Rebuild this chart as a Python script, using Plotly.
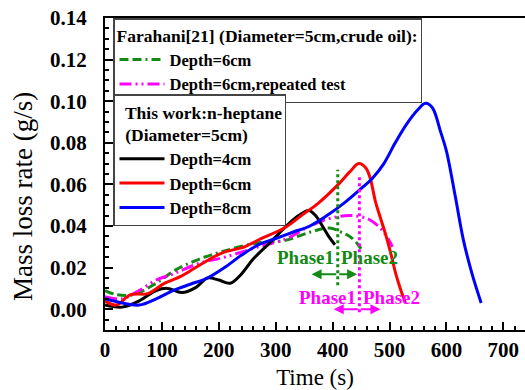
import plotly.graph_objects as go

# ---- data ----
t_black = [0, 30, 60, 90, 110, 135, 160, 180, 200, 220, 240, 260, 290, 315, 340, 358, 370, 382, 393, 404]
m_black = [0.002, 0.001, 0.004, 0.009, 0.010, 0.008, 0.0105, 0.015, 0.014, 0.0125, 0.017, 0.024, 0.032, 0.039, 0.045, 0.0475, 0.045, 0.040, 0.035, 0.031]

t_red = [0, 20, 45, 75, 105, 135, 165, 205, 245, 275, 315, 345, 375, 410, 430, 446, 458, 466, 475, 485, 493, 502, 511, 520, 528]
m_red = [0.004, 0.002, 0.007, 0.0075, 0.0125, 0.016, 0.021, 0.027, 0.030, 0.034, 0.039, 0.045, 0.051, 0.060, 0.066, 0.070, 0.068, 0.063, 0.052, 0.043, 0.036, 0.027, 0.017, 0.009, 0.003]

t_blue = [0, 30, 60, 90, 120, 150, 180, 210, 240, 270, 300, 330, 360, 390, 420, 450, 470, 490, 510, 530, 550, 563, 575, 590, 600, 615, 630, 645, 661]
m_blue = [0.005, 0.003, 0.002, 0.005, 0.009, 0.012, 0.015, 0.020, 0.026, 0.031, 0.034, 0.037, 0.040, 0.045, 0.051, 0.058, 0.063, 0.070, 0.080, 0.089, 0.096, 0.099, 0.097, 0.085, 0.076, 0.055, 0.033, 0.017, 0.003]

t_green = [0, 20, 50, 90, 125, 165, 210, 270, 315, 360, 395, 415, 430, 445, 452]
m_green = [0.009, 0.007, 0.007, 0.0125, 0.019, 0.024, 0.028, 0.032, 0.033, 0.037, 0.039, 0.037, 0.035, 0.031, 0.028]

t_mag = [0, 30, 60, 90, 120, 165, 210, 270, 320, 360, 400, 435, 465, 490, 505]
m_mag = [0.006, 0.005, 0.009, 0.014, 0.017, 0.022, 0.025, 0.030, 0.034, 0.040, 0.044, 0.045, 0.043, 0.037, 0.030]

# phase split lines
split_green_t = 409
split_green_y = [0.0115, 0.067]
split_mag_t = 447
split_mag_y = [-0.0015, 0.064]

x_ticks = [0, 100, 200, 300, 400, 500, 600, 700]
y_ticks = [0.00, 0.02, 0.04, 0.06, 0.08, 0.10, 0.12, 0.14]

SERIF = "Liberation Serif"
GREEN = "#138a13"
MAG = "#ff00ff"

fig = go.Figure()

fig.add_trace(go.Scatter(x=t_green, y=m_green, mode="lines", name="Depth=6cm",
                         line=dict(color=GREEN, width=3, dash="9px,4px,9px,4px,2px,4px", shape="spline"),
                         legend="legend"))
fig.add_trace(go.Scatter(x=t_mag, y=m_mag, mode="lines", name="Depth=6cm,repeated test",
                         line=dict(color=MAG, width=3, dash="12px,4px,2px,4px,2px,4px", shape="spline"),
                         legend="legend"))
fig.add_trace(go.Scatter(x=t_black, y=m_black, mode="lines", name="Depth=4cm",
                         line=dict(color="black", width=3, shape="spline"), legend="legend2"))
fig.add_trace(go.Scatter(x=t_red, y=m_red, mode="lines", name="Depth=6cm",
                         line=dict(color="#ff0000", width=3, shape="spline"), legend="legend2"))
fig.add_trace(go.Scatter(x=t_blue, y=m_blue, mode="lines", name="Depth=8cm",
                         line=dict(color="#0000ff", width=3, shape="spline"), legend="legend2"))

fig.add_trace(go.Scatter(x=[split_green_t, split_green_t], y=split_green_y, mode="lines",
                         line=dict(color=GREEN, width=3, dash="dot"), showlegend=False))
fig.add_trace(go.Scatter(x=[split_mag_t, split_mag_t], y=split_mag_y, mode="lines",
                         line=dict(color=MAG, width=3, dash="dot"), showlegend=False))

ann_font_g = dict(family=SERIF, size=19, color=GREEN, weight="bold")
ann_font_m = dict(family=SERIF, size=19, color=MAG, weight="bold")

PLOT_W = 420
X_MAX = 738

annotations = [
    dict(x=split_green_t - 3, y=0.025, text="Phase1", showarrow=False, xanchor="right", font=ann_font_g),
    dict(x=split_green_t + 3, y=0.025, text="Phase2", showarrow=False, xanchor="left", font=ann_font_g),
    dict(x=363, y=0.0168, ax=split_green_t, ay=0.0168, axref="x", ayref="y", text="", showarrow=True,
         arrowhead=2, arrowsize=1, arrowwidth=2, arrowcolor=GREEN),
    dict(x=443, y=0.0168, ax=split_green_t, ay=0.0168, axref="x", ayref="y", text="", showarrow=True,
         arrowhead=2, arrowsize=1, arrowwidth=2, arrowcolor=GREEN),
    dict(x=split_mag_t - 3, y=0.0058, text="Phase1", showarrow=False, xanchor="right", font=ann_font_m),
    dict(x=split_mag_t + 3, y=0.0058, text="Phase2", showarrow=False, xanchor="left", font=ann_font_m),
    dict(x=402, y=0.0, ax=split_mag_t, ay=0.0, axref="x", ayref="y", text="", showarrow=True,
         arrowhead=2, arrowsize=1, arrowwidth=2, arrowcolor=MAG),
    dict(x=484, y=0.0, ax=split_mag_t, ay=0.0, axref="x", ayref="y", text="", showarrow=True,
         arrowhead=2, arrowsize=1, arrowwidth=2, arrowcolor=MAG),
    dict(x=-82 / PLOT_W, y=0.426, xref="paper", yref="paper", text="Mass loss rate (g/s)",
         textangle=-90, xanchor="center", yanchor="middle", showarrow=False,
         font=dict(family=SERIF, size=27, color="black")),
]

fig.update_layout(
    width=525, height=390,
    margin=dict(l=105, r=0, t=18, b=60),
    paper_bgcolor="white", plot_bgcolor="white",
    annotations=annotations,
    xaxis=dict(range=[0, X_MAX], tickvals=x_ticks, ticktext=[str(v) for v in x_ticks],
               ticks="inside", ticklen=8, tickwidth=2, tickcolor="black",
               minor=dict(dtick=20, ticks="inside", ticklen=4, tickwidth=1.5, tickcolor="black",
                          showgrid=False),
               showline=True, linewidth=2, linecolor="black", mirror=True,
               showgrid=False, zeroline=False, ticklabelstandoff=0,
               tickfont=dict(family=SERIF, size=21, color="black", weight="bold"),
               title=dict(text="Time (s)", font=dict(family=SERIF, size=23, color="black"), standoff=8)),
    yaxis=dict(range=[-0.010, 0.14], tickvals=y_ticks, ticktext=[f"{v:.2f}" for v in y_ticks],
               ticks="inside", ticklen=8, tickwidth=2, tickcolor="black",
               minor=dict(dtick=0.005, tick0=0, ticks="inside", ticklen=4, tickwidth=1.5, tickcolor="black",
                          showgrid=False),
               showline=True, linewidth=2, linecolor="black", mirror=False,
               showgrid=False, zeroline=False, ticklabelstandoff=12,
               tickfont=dict(family=SERIF, size=21, color="black", weight="bold")),
    legend=dict(x=8 / PLOT_W, y=1.0, xanchor="left", yanchor="top",
                bgcolor="white", bordercolor="#444", borderwidth=1.5,
                font=dict(family=SERIF, size=16.5, color="black", weight="bold"),
                title=dict(text="Farahani[21] (Diameter=5cm,crude oil):",
                           font=dict(family=SERIF, size=17.5, color="black", weight="bold"),
                           side="top"),
                itemwidth=45, tracegroupgap=0),
    legend2=dict(x=8 / PLOT_W, y=0.755, xanchor="left", yanchor="top",
                 bgcolor="white", bordercolor="#444", borderwidth=1.5,
                 font=dict(family=SERIF, size=16.5, color="black", weight="bold"),
                 title=dict(text="  This work:n-heptane<br>  (Diameter=5cm)",
                            font=dict(family=SERIF, size=17.5, color="black", weight="bold"),
                            side="top"),
                 itemwidth=45, tracegroupgap=0),
)

fig.write_html("out.html", config={"displayModeBar": False})
